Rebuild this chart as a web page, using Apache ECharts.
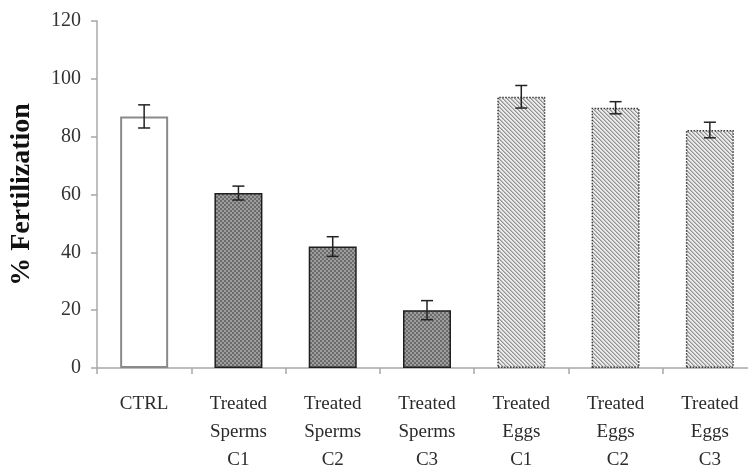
<!DOCTYPE html>
<html>
<head>
<meta charset="utf-8">
<script src="https://cdn.jsdelivr.net/npm/echarts@6/dist/echarts.min.js"></script>
<style>
html,body{margin:0;padding:0;background:#fff;}
#chart{width:748px;height:466px;}
</style>
</head>
<body>
<div id="chart"></div>
<script>
// ---- data ----
var categories = ['CTRL', 'Treated\nSperms\nC1', 'Treated\nSperms\nC2', 'Treated\nSperms\nC3', 'Treated\nEggs\nC1', 'Treated\nEggs\n C2', 'Treated\nEggs\nC3'];
var groups = ['ctrl', 'sperm', 'sperm', 'sperm', 'egg', 'egg', 'egg'];
var values = [87, 60.5, 42, 20, 93.8, 90, 82.3];
var errors = [4, 2.4, 3.4, 3.3, 3.9, 2.1, 2.7];
var yTicks = [0, 20, 40, 60, 80, 100, 120];

// ---- patterns ----
function makeSpermPattern() {
  var c = document.createElement('canvas');
  c.width = 4; c.height = 4;
  var g = c.getContext('2d');
  for (var y = 0; y < 4; y++) {
    for (var x = 0; x < 4; x++) {
      var on = ((Math.floor(x / 2) + Math.floor(y / 2)) % 2) === 0;
      g.fillStyle = on ? '#6c6c6c' : '#9d9d9d';
      g.fillRect(x, y, 1, 1);
    }
  }
  return c;
}
function makeEggPattern() {
  var c = document.createElement('canvas');
  c.width = 4; c.height = 4;
  var g = c.getContext('2d');
  for (var y = 0; y < 4; y++) {
    for (var x = 0; x < 4; x++) {
      var d = ((x - y) % 4 + 4) % 4;
      g.fillStyle = (d === 0) ? '#939393' : (d === 1 ? '#bdbdbd' : '#ebebeb');
      g.fillRect(x, y, 1, 1);
    }
  }
  return c;
}
var spermImg = makeSpermPattern();
var eggImg = makeEggPattern();

var styles = {
  ctrl: { color: '#ffffff', borderColor: '#8a8a8a', borderWidth: 2 },
  sperm: { color: { image: spermImg, repeat: 'repeat' }, borderColor: '#1e1e1e', borderWidth: 1.5 },
  egg: { color: { image: eggImg, repeat: 'repeat' }, borderColor: '#3a3a3a', borderWidth: 1.5, borderType: [1.5, 1.5] }
};

var barData = values.map(function (v, i) {
  return { value: v, itemStyle: styles[groups[i]] };
});
var errData = values.map(function (v, i) {
  return [i, v - errors[i], v + errors[i]];
});

var chart = echarts.init(document.getElementById('chart'), null, { renderer: 'canvas' });
var font = '"Liberation Serif", "Times New Roman", serif';

chart.setOption({
  backgroundColor: '#ffffff',
  animation: false,
  grid: { left: 97, top: 21, bottom: 98, width: 660, containLabel: false, outerBoundsMode: 'none' },
  xAxis: {
    type: 'category',
    data: categories,
    axisLine: { lineStyle: { color: '#a8a8a8', width: 1.5 } },
    axisTick: { show: true, length: 6, lineStyle: { color: '#a8a8a8', width: 1.5 } },
    axisLabel: {
      interval: 0, margin: 22, color: '#2a2a2a',
      fontFamily: font, fontSize: 19, lineHeight: 28
    }
  },
  yAxis: {
    type: 'value',
    min: 0, max: 120, interval: 20,
    name: '% Fertilization',
    nameLocation: 'middle',
    nameGap: 61,
    nameTextStyle: { fontFamily: font, fontWeight: 'bold', fontSize: 28, color: '#111' },
    axisLine: { show: true, lineStyle: { color: '#a8a8a8', width: 1.5 } },
    axisTick: { show: true, length: 6, lineStyle: { color: '#a8a8a8', width: 1.5 } },
    splitLine: { show: false },
    axisLabel: {
      margin: 16, color: '#333',
      fontFamily: font, fontSize: 20,
      formatter: function (v) { return yTicks.indexOf(v) >= 0 ? String(v) : ''; }
    }
  },
  series: [
    {
      type: 'bar',
      data: barData,
      barWidth: 48
    },
    {
      type: 'custom',
      data: errData,
      z: 10,
      renderItem: function (params, api) {
        var x = api.value(0);
        var lo = api.coord([x, api.value(1)]);
        var hi = api.coord([x, api.value(2)]);
        var hw = 6;
        var st = { stroke: '#222', lineWidth: 1.5 };
        return {
          type: 'group',
          children: [
            { type: 'line', shape: { x1: lo[0], y1: lo[1], x2: hi[0], y2: hi[1] }, style: st },
            { type: 'line', shape: { x1: lo[0] - hw, y1: lo[1], x2: lo[0] + hw, y2: lo[1] }, style: st },
            { type: 'line', shape: { x1: hi[0] - hw, y1: hi[1], x2: hi[0] + hw, y2: hi[1] }, style: st }
          ]
        };
      }
    }
  ]
});
</script>
</body>
</html>
